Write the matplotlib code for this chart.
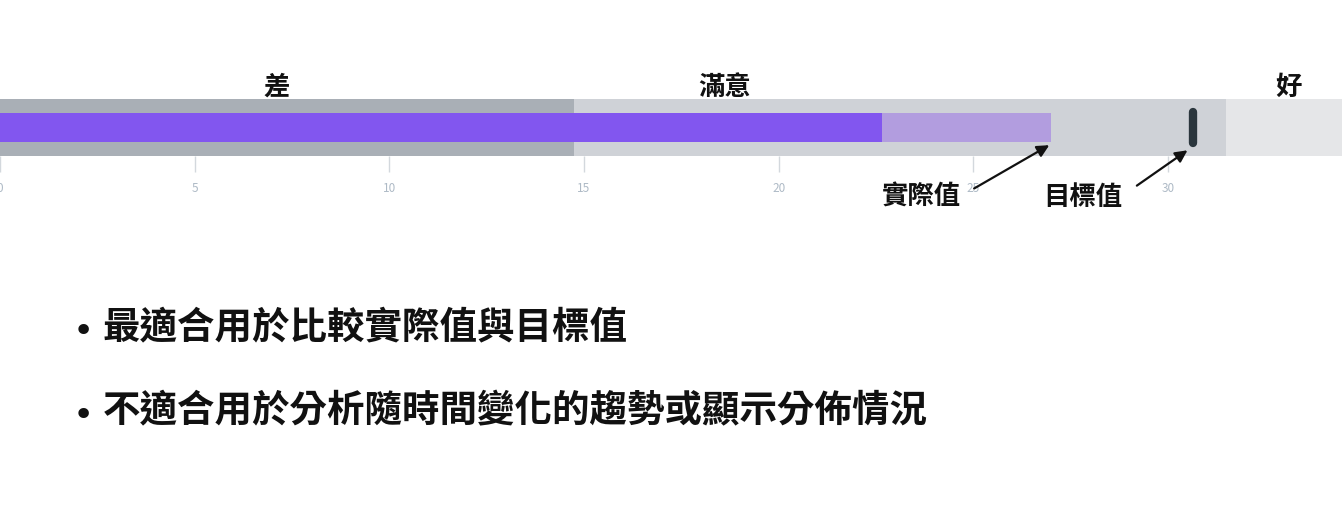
import matplotlib
matplotlib.use("Agg")
import matplotlib.pyplot as plt
import matplotlib.transforms as mtransforms

plt.rcParams['font.family'] = ['Noto Sans CJK TC', 'DejaVu Sans']

# ---- data ----
band_labels = ["差", "滿意", "好"]
band_edges = [14.75, 31.5, 34.6]          # upper edge of each qualitative range
band_label_x = [7.1, 18.6, 33.1]
actual_main = 22.65                      # solid part of actual bar
actual_value = 27.0                      # actual value (light extension)
target_value = 30.65
tick_values = [0, 5, 10, 15, 20, 25, 30]
annot_labels = ["實際值", "目標值"]
bullets = ["最適合用於比較實際值與目標值",
           "不適合用於分析隨時間變化的趨勢或顯示分佈情況"]

band_colors = ["#a9afb6", "#cfd2d7", "#e5e6e8"]
W, H = 1342, 509
fig = plt.figure(figsize=(W / 100, H / 100), dpi=100)
fig.patch.set_facecolor("white")

px_per_unit = 1168 / 30.0
ax = fig.add_axes([0, 1 - 156 / H, 1, 57 / H])
ax.set_xlim(0, W / px_per_unit)
ax.set_ylim(-0.5, 0.5)

# qualitative bands
lefts = [0] + band_edges[:-1]
widths = [e - l for e, l in zip(band_edges, lefts)]
ax.barh([0, 0, 0], widths, left=lefts, height=1.0, color=band_colors,
        edgecolor="none", zorder=1)

# actual bar (light extension then solid)
ax.barh(0, actual_value, height=0.5, color="#b29ddf", edgecolor="none", zorder=2)
ax.barh(0, actual_main, height=0.5, color="#8256ef", edgecolor="none", zorder=3)

# target marker
ax.plot([target_value, target_value], [-0.27, 0.27], color="#2b363d", lw=6,
        solid_capstyle="round", zorder=4)

# axis styling
for s in ax.spines.values():
    s.set_visible(False)
ax.set_yticks([])
ax.set_xticks(tick_values)
ax.set_xticklabels([str(v) for v in tick_values])
ax.tick_params(axis="x", length=11.5, width=1, color="#d3d8dd", labelsize=8.5,
               labelcolor="#aebac6", pad=7)

# band labels above
trans = mtransforms.blended_transform_factory(ax.transData, ax.transAxes)
for lab, x in zip(band_labels, band_label_x):
    ax.text(x, 1.21, lab, transform=trans, ha="center", va="center",
            fontsize=19, fontweight="bold", color="#111111")

# annotations
ax.text(23.66, -1.23, annot_labels[0], ha="center", va="center", fontsize=19,
        fontweight="bold", color="#111111", clip_on=False)
ax.text(27.82, -1.23, annot_labels[1], ha="center", va="center", fontsize=19,
        fontweight="bold", color="#111111", clip_on=False)
arrow = dict(arrowstyle="-|>", color="#111111", lw=1.6, mutation_scale=18,
             shrinkA=0, shrinkB=0)
ax.annotate("", xy=(actual_value - 0.05, -0.31), xytext=(25.02, -1.07),
            arrowprops=arrow, annotation_clip=False)
ax.annotate("", xy=(target_value - 0.15, -0.40), xytext=(29.2, -1.02),
            arrowprops=arrow, annotation_clip=False)

# bullet text
for i, txt in enumerate(bullets):
    y = 1 - (327 + i * 84) / H
    fig.text(83 / W, y - 0.009, "•", ha="center", va="center", fontsize=26,
             color="#111111", family="DejaVu Sans")
    fig.text(103 / W, y, txt, ha="left", va="center", fontsize=27,
             fontweight="bold", color="#111111")

fig.savefig("out.png", dpi=100, facecolor="white")
